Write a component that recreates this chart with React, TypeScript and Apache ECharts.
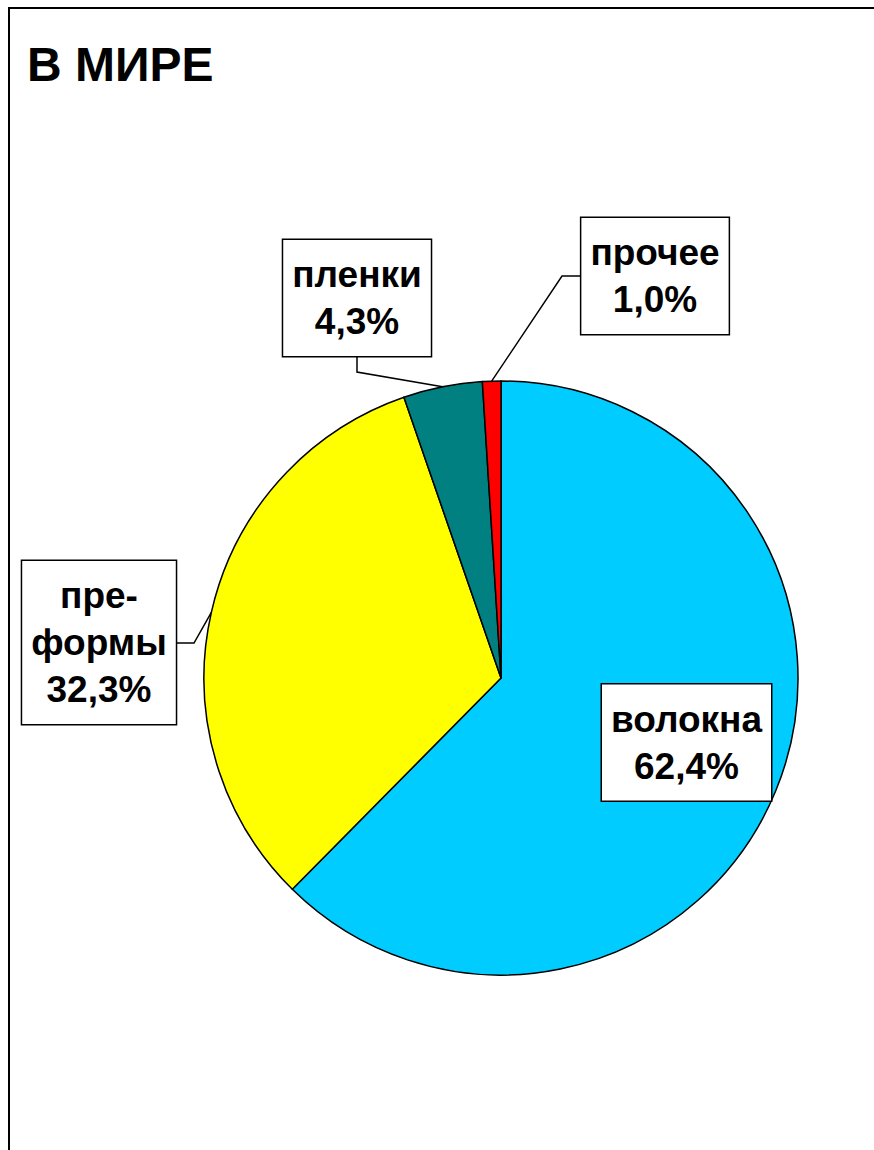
import React, { useEffect, useRef } from "react";
import * as echarts from "echarts";

const categories = ["волокна", "преформы", "пленки", "прочее"];
const labelTexts = ["волокна", "пре-\nформы", "пленки", "прочее"];
const values = [62.4, 32.3, 4.3, 1.0];
const colors = ["#00CCFF", "#FFFF00", "#008080", "#FF0000"];

// label box centres (px) and leader-line bend points
const labelCentres: [number, number][] = [
  [686.5, 742.5],
  [99, 642.5],
  [357, 298],
  [655, 276],
];
const labelBends: ([number, number][] | null)[] = [
  null,
  [
    [194, 643],
    [176, 643],
  ],
  [
    [357, 372],
    [357, 356],
  ],
  [
    [562, 276],
    [580, 276],
  ],
];

export default function App() {
  const ref = useRef<HTMLDivElement>(null);
  useEffect(() => {
    document.body.style.margin = "0";
    if (!ref.current) return;
    const chart = echarts.init(ref.current, null, { renderer: "svg" });
    const fmt = (v: number) => v.toFixed(1).replace(".", ",") + "%";
    chart.setOption({
      animation: false,
      backgroundColor: "#ffffff",
      graphic: [
        {
          type: "polyline",
          shape: {
            points: [
              [9, 1200],
              [9, 8],
              [900, 8],
            ],
          },
          style: { stroke: "#000", lineWidth: 2, fill: "none" },
          silent: true,
        },
        {
          type: "text",
          left: 27,
          top: 40,
          style: {
            text: "В МИРЕ",
            font: 'bold 48px "Liberation Sans", Arial, sans-serif',
            fill: "#000",
          },
        },
      ],
      series: [
        {
          type: "pie",
          center: [501, 678],
          radius: 297,
          startAngle: 90,
          clockwise: true,
          avoidLabelOverlap: false,
          data: categories.map((c, i) => ({
            name: c,
            value: values[i],
            itemStyle: { color: colors[i] },
            labelLine: { show: labelBends[i] !== null },
          })),
          itemStyle: { borderColor: "#000", borderWidth: 1.5 },
          label: {
            show: true,
            position: "outside",
            formatter: (p: any) => labelTexts[p.dataIndex] + "\n" + fmt(p.value),
            fontFamily: '"Liberation Sans", Arial, sans-serif',
            fontWeight: "bold",
            fontSize: 37,
            lineHeight: 47,
            color: "#000",
            align: "center",
            backgroundColor: "#fff",
            borderColor: "#000",
            borderWidth: 1.5,
            padding: [11, 9, 11, 9],
          },
          labelLine: {
            show: true,
            lineStyle: { color: "#000", width: 1.5 },
          },
          labelLayout: (params: any) => {
            const i = params.dataIndex;
            const c = labelCentres[i];
            const out: any = {
              x: c[0],
              y: c[1],
              align: "center",
              verticalAlign: "middle",
            };
            const b = labelBends[i];
            if (b && params.labelLinePoints) {
              out.labelLinePoints = [params.labelLinePoints[0], ...b];
            }
            return out;
          },
          emphasis: { disabled: true },
        },
      ],
    });
    return () => chart.dispose();
  }, []);
  return <div ref={ref} style={{ width: 874, height: 1150 }} />;
}
